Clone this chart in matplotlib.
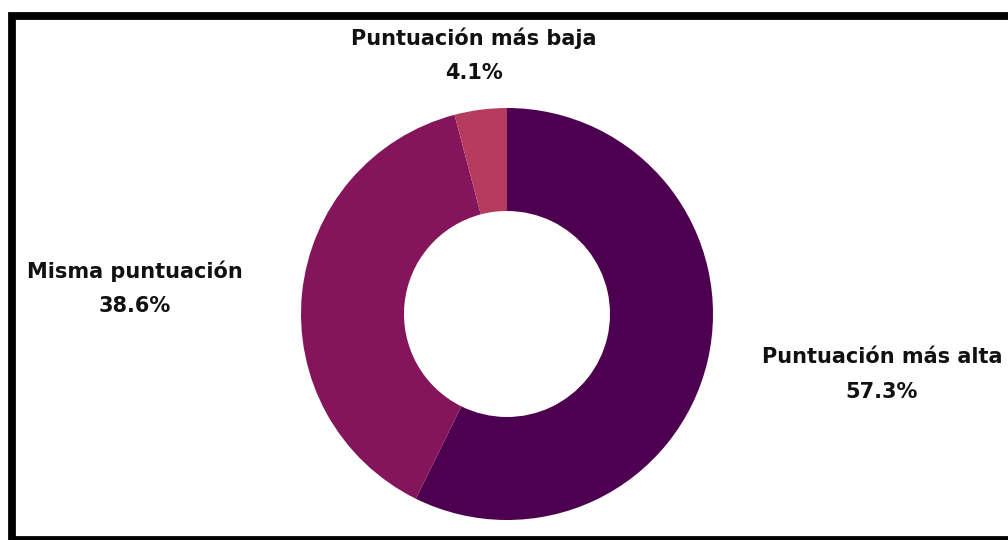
import matplotlib.pyplot as plt
from matplotlib.patches import Rectangle

# Data
labels = ['Puntuación más alta', 'Misma puntuación', 'Puntuación más baja']
values = [57.3, 38.6, 4.1]
colors = ['#4e0050', '#85155a', '#b63c5f']

# label anchor points in pixel space (x, y of first line, from top)
label_pos = [(882, 357), (135, 271), (474, 38)]
line_gap = 35

W, H = 1008, 540
fig = plt.figure(figsize=(W / 100, H / 100), dpi=100)
ax = fig.add_axes([0, 0, 1, 1])

# Donut
ax.pie(values, colors=colors, startangle=90, counterclock=False,
       center=(507, H - 314), radius=206,
       wedgeprops=dict(width=103, edgecolor='none'), frame=True)
ax.set_xlim(0, W)
ax.set_ylim(0, H)
ax.set_aspect('equal')
ax.axis('off')

# Labels
for lab, v, (x, y) in zip(labels, values, label_pos):
    ax.text(x, H - y, lab, ha='center', va='center',
            fontsize=15, fontweight='bold', color='#111111')
    ax.text(x, H - y - line_gap, f'{v:.1f}%', ha='center', va='center',
            fontsize=15, fontweight='bold', color='#111111')

# Frame (cropped on the right)
ax.add_patch(Rectangle((11.5, 0), 1100, H - 16, fill=False,
                       edgecolor='black', linewidth=5.6, clip_on=True))

fig.savefig('out.png', dpi=100)
